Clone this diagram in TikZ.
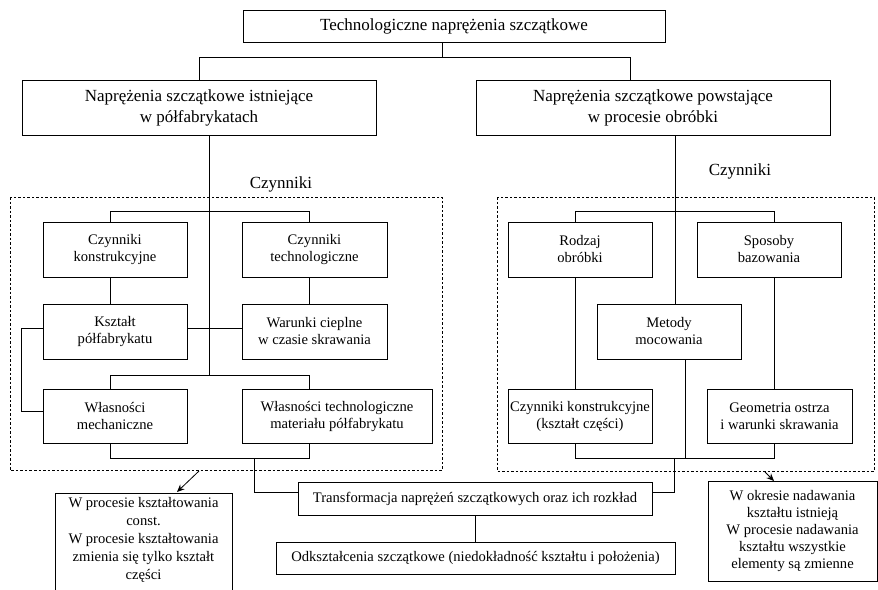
\documentclass[tikz,border=0pt]{standalone}
\usepackage{fontspec}
\setmainfont{Liberation Serif}
\usetikzlibrary{arrows.meta}
\begin{document}
\begin{tikzpicture}[x=1pt,y=-1pt,
  box/.style={draw, line width=0.8pt, inner sep=0pt, align=center,
    font=\fontsize{14.6}{17}\selectfont},
  bigbox/.style={box, font=\fontsize{17}{21}\selectfont},
  caption/.style={font=\fontsize{17}{20}\selectfont, anchor=base},
  link/.style={line width=0.8pt},
  group/.style={line width=0.7pt, dash pattern=on 2.5pt off 2pt},
  tip/.style={link, -{Stealth[length=7.5pt,width=6.5pt]}}
]
\useasboundingbox (0,0) rectangle (878,589);

% --- upper levels ---
\node[bigbox, minimum width=422pt, minimum height=32pt] (title) at (454,26)
  {Technologiczne naprężenia szczątkowe};
\node[bigbox, minimum width=354pt, minimum height=55pt] (resA) at (199,107.5)
  {Naprężenia szczątkowe istniejące\\w półfabrykatach};
\node[bigbox, minimum width=354pt, minimum height=55pt] (resB) at (653,107.5)
  {Naprężenia szczątkowe powstające\\w procesie obróbki};

\node[caption] (czA) at (281,188) {Czynniki};
\node[caption] (czB) at (740,175) {Czynniki};

% --- factor groups ---
\draw[group] (10,197) rectangle (442,470);
\draw[group] (497,197) rectangle (874,471);

% left group
\node[box, minimum width=144pt, minimum height=55pt] (ckon) at (115,249.5)
  {Czynniki\\konstrukcyjne};
\node[box, minimum width=145pt, minimum height=55pt] (ctech) at (314.5,249.5)
  {Czynniki\\technologiczne};
\node[box, minimum width=144pt, minimum height=55pt] (ksz) at (115,331.5)
  {Kształt\\półfabrykatu};
\node[box, minimum width=145pt, minimum height=55pt] (warc) at (314.5,331.5)
  {Warunki cieplne\\w czasie skrawania};
\node[box, minimum width=144pt, minimum height=54pt] (wmech) at (115,416)
  {Własności\\mechaniczne};
\node[box, minimum width=190pt, minimum height=54pt] (wtech) at (337,416)
  {Własności technologiczne\\materiału półfabrykatu};

% right group
\node[box, minimum width=144pt, minimum height=55pt] (rodz) at (580,249.5)
  {Rodzaj\\obróbki};
\node[box, minimum width=144pt, minimum height=55pt] (spos) at (769,249.5)
  {Sposoby\\bazowania};
\node[box, minimum width=144pt, minimum height=55pt] (meto) at (669,331.5)
  {Metody\\mocowania};
\node[box, minimum width=144pt, minimum height=54pt] (ckcz) at (580,416)
  {Czynniki konstrukcyjne\\(kształt części)};
\node[box, minimum width=145pt, minimum height=54pt] (geom) at (779.5,416)
  {Geometria ostrza\\i warunki skrawania};

% --- results ---
\node[box, minimum width=354pt, minimum height=33pt] (transf) at (475,498.5)
  {Transformacja naprężeń szczątkowych oraz ich rozkład};
\node[box, minimum width=399pt, minimum height=32pt] (odks) at (475.5,558)
  {Odkształcenia szczątkowe (niedokładność kształtu i położenia)};

\node[box, minimum width=177pt, minimum height=110pt, anchor=north] (noteA) at (143.5,493) {};
\node[align=center, inner sep=0pt, font=\fontsize{14.6}{18}\selectfont] (noteAtxt) at (143.5,540)
  {W procesie kształtowania\\const.\\W procesie kształtowania\\zmienia się tylko kształt\\części};
\node[box, minimum width=169pt, minimum height=100pt] (noteB) at (792.5,531.5)
  {W okresie nadawania\\kształtu istnieją\\W procesie nadawania\\kształtu wszystkie\\elementy są zmienne};

% --- connectors: top split ---
\coordinate (tj) at (442,57);
\coordinate (tl) at (199,57);
\coordinate (tr) at (630,57);
\draw[link] (title.south -| tj) -- (tj);
\draw[link] (resA.north) -- (tl) -- (tr) -- (tr |- resB.north);

% left spine
\coordinate (lsp) at (209,375);
\draw[link] (resA.south -| lsp) -- (lsp);
\coordinate (lh1) at (110,211);
\coordinate (lh2) at (309,211);
\draw[link] (lh1 |- ckon.north) -- (lh1) -- (lh2) -- (lh2 |- ctech.north);
\draw[link] (ckon.south -| lh1) -- (ksz.north -| lh1);
\draw[link] (ctech.south -| lh2) -- (warc.north -| lh2);
\draw[link] ([yshift=3.5pt]ksz.east) -- ([yshift=3.5pt]warc.west);
\draw[link] ([yshift=3.5pt]ksz.west) -- ++(-21,0) |- ([yshift=5pt]wmech.west);
\coordinate (lb1) at (110,375);
\coordinate (lb2) at (309,375);
\draw[link] (lb1 |- wmech.north) -- (lb1) -- (lb2) -- (lb2 |- wtech.north);
\coordinate (lc1) at (110,458);
\coordinate (lc2) at (309,458);
\draw[link] (lc1 |- wmech.south) -- (lc1) -- (lc2) -- (lc2 |- wtech.south);
\coordinate (lt) at (254,458);
\draw[link] (lt) |- ([yshift=6.5pt]transf.west);

% right spine
\coordinate (rsx) at (675,0);
\draw[link] (resB.south -| rsx) -- (meto.north -| rsx);
\coordinate (rh1) at (575,211);
\coordinate (rh2) at (774,211);
\draw[link] (rh1 |- rodz.north) -- (rh1) -- (rh2) -- (rh2 |- spos.north);
\draw[link] (rodz.south -| rh1) -- (ckcz.north -| rh1);
\draw[link] (spos.south -| rh2) -- (geom.north -| rh2);
\coordinate (rc1) at (575,458);
\coordinate (rc2) at (774,458);
\draw[link] (rc1 |- ckcz.south) -- (rc1) -- (rc2) -- (rc2 |- geom.south);
\coordinate (rm) at (685,458);
\draw[link] (meto.south -| rm) -- (rm);
\coordinate (rt) at (674,458);
\draw[link] (rt) |- ([yshift=6.5pt]transf.east);

\draw[link] (transf.south) -- (transf.south |- odks.north);

% arrows to the notes
\coordinate (aA) at (199,471);
\coordinate (aAend) at (177,492);
\draw[tip] (aA) -- (aAend);
\coordinate (aB) at (765,472);
\coordinate (aBend) at (774,481);
\draw[tip] (aB) -- (aBend);
\end{tikzpicture}
\end{document}
